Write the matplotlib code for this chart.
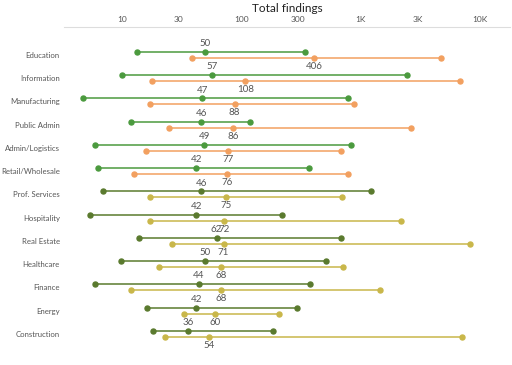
import matplotlib
matplotlib.use("Agg")
import matplotlib.pyplot as plt
import numpy as np
from matplotlib.ticker import FixedLocator, NullLocator

plt.rcParams['font.family'] = ['Lato', 'DejaVu Sans']

categories = ["Education", "Information", "Manufacturing", "Public Admin",
              "Admin/Logistics", "Retail/Wholesale", "Prof. Services",
              "Hospitality", "Real Estate", "Healthcare", "Finance",
              "Energy", "Construction"]

green_min = [13.4, 10.1, 4.7, 11.9, 6.0, 6.3, 7.0, 5.4, 14.0, 9.9, 5.9, 16.1, 18.1]
green_med = [50, 57, 47, 46, 49, 42, 46, 42, 62, 50, 44, 42, 36]
green_max = [340, 2430, 790, 118, 836, 367, 1220, 221, 683, 513, 379, 295, 186]

orange_min = [38.3, 17.7, 17.1, 24.6, 15.9, 12.5, 17.1, 17.1, 26.1, 20.3, 12.0, 32.8, 23.0]
orange_med = [406, 108, 88, 86, 77, 76, 75, 72, 71, 68, 68, 60, 54]
orange_max = [4670, 6740, 886, 2660, 680, 789, 693, 2190, 8220, 716, 1440, 205, 7040]

tick_vals = [10, 30, 100, 300, 1000, 3000, 10000]
tick_labels = ["10", "30", "100", "300", "1K", "3K", "10K"]

fig = plt.figure(figsize=(5.12, 3.65), dpi=100)
ax = fig.add_axes([0.125, 0.014, 0.871, 0.912])
ax.set_xscale('log')
ax.set_xlim(3.27, 17800)
ax.set_ylim(13.12, -1.204)

off = 0.13
for i, cat in enumerate(categories):
    if i < 6:
        gc, oc = "#4b9a3e", "#f2a060"
    else:
        gc, oc = "#5a7a2e", "#c9b74a"
    ax.plot([green_min[i], green_med[i], green_max[i]], [i - off] * 3,
            color=gc, lw=1.1, marker='o', ms=3.6, zorder=3)
    ax.plot([orange_min[i], orange_med[i], orange_max[i]], [i + off] * 3,
            color=oc, lw=1.1, marker='o', ms=3.6, zorder=3)
    ax.text(green_med[i], i - off - 0.36, str(green_med[i]), ha='center', va='center',
            fontsize=7, color='#555555')
    ax.text(orange_med[i], i + off + 0.36, str(orange_med[i]), ha='center', va='center',
            fontsize=7, color='#555555')

ax.set_yticks(range(len(categories)))
ax.set_yticklabels(categories, fontsize=5.6, color='#555555')
ax.tick_params(axis='y', length=0, pad=3)

ax.xaxis.set_major_locator(FixedLocator(tick_vals))
ax.xaxis.set_minor_locator(NullLocator())
ax.set_xticklabels(tick_labels)
ax.xaxis.tick_top()
ax.tick_params(axis='x', length=0, labelsize=6, labelcolor='#555555', pad=3)

for s in ['bottom', 'left', 'right']:
    ax.spines[s].set_visible(False)
ax.spines['top'].set_color('#dddddd')
ax.spines['top'].set_linewidth(0.8)

fig.text(0.561, 0.977, "Total findings", ha='center', va='center', fontsize=8.5, color='#222222')

fig.savefig("out.png", dpi=100)
